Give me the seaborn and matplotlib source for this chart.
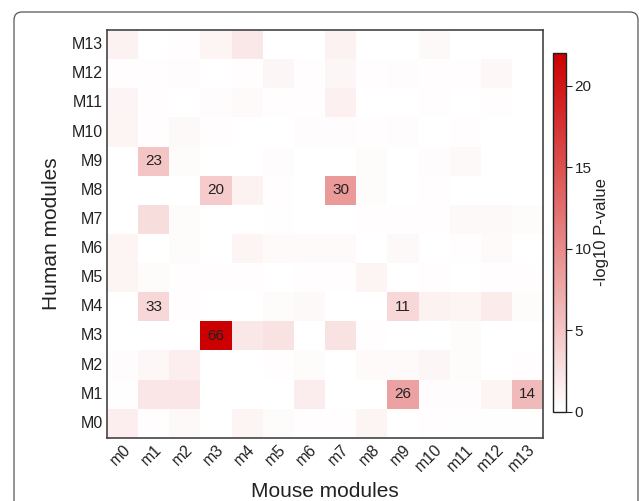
import numpy as np
import pandas as pd
import seaborn as sns
import matplotlib.pyplot as plt
from matplotlib.colors import LinearSegmentedColormap
from matplotlib.patches import FancyBboxPatch

# Module labels (rows listed top to bottom)
human_modules = ['M13', 'M12', 'M11', 'M10', 'M9', 'M8', 'M7',
                 'M6', 'M5', 'M4', 'M3', 'M2', 'M1', 'M0']
mouse_modules = ['m0', 'm1', 'm2', 'm3', 'm4', 'm5', 'm6',
                 'm7', 'm8', 'm9', 'm10', 'm11', 'm12', 'm13']

# -log10 P-values (rows M13 -> M0)
m13 = [1.2, 0.0, 0.2, 1.0, 2.0, 0.0, 0.0, 1.2, 0.0, 0.0, 0.6, 0.0, 0.0, 0.0]
m12 = [0.2, 0.2, 0.3, 0.0, 0.2, 0.8, 0.2, 0.8, 0.2, 0.3, 0.2, 0.2, 0.7, 0.0]
m11 = [0.9, 0.2, 0.0, 0.3, 0.5, 0.2, 0.2, 1.3, 0.0, 0.0, 0.2, 0.0, 0.2, 0.0]
m10 = [1.0, 0.2, 0.6, 0.2, 0.0, 0.0, 0.3, 0.3, 0.2, 0.3, 0.0, 0.2, 0.0, 0.0]
m9 = [0.0, 5.0, 0.4, 0.0, 0.0, 0.3, 0.0, 0.0, 0.4, 0.0, 0.3, 0.6, 0.0, 0.0]
m8 = [0.0, 0.0, 0.0, 4.5, 1.2, 0.2, 0.0, 8.8, 0.4, 0.0, 0.2, 0.0, 0.0, 0.0]
m7 = [0.0, 3.0, 0.4, 0.0, 0.0, 0.1, 0.0, 0.0, 0.2, 0.2, 0.2, 0.6, 0.6, 0.4]
m6 = [1.0, 0.0, 0.4, 0.0, 1.0, 0.5, 0.5, 0.5, 0.0, 0.6, 0.0, 0.2, 0.5, 0.0]
m5 = [1.0, 0.4, 0.2, 0.2, 0.2, 0.0, 0.2, 0.2, 1.0, 0.0, 0.2, 0.0, 0.2, 0.2]
m4 = [0.0, 3.5, 0.2, 0.0, 0.0, 0.4, 0.6, 0.0, 0.0, 3.5, 1.2, 1.0, 1.8, 0.4]
m3 = [0.0, 0.0, 0.0, 25.0, 2.0, 2.5, 0.0, 2.5, 0.2, 0.0, 0.0, 0.4, 0.0, 0.0]
m2 = [0.3, 0.7, 1.5, 0.0, 0.0, 0.2, 0.4, 0.0, 0.5, 0.5, 0.8, 0.4, 0.0, 0.2]
m1 = [0.1, 2.2, 2.2, 0.0, 0.0, 0.0, 1.6, 0.0, 0.0, 8.0, 0.3, 0.3, 1.0, 6.0]
m0 = [1.5, 0.2, 0.6, 0.0, 1.0, 0.4, 0.2, 0.2, 1.0, 0.0, 0.2, 0.1, 0.1, 0.1]

# overlap counts shown in the cells: (human, mouse, count)
counts = [('M9', 'm1', 23), ('M8', 'm3', 20), ('M8', 'm7', 30),
          ('M4', 'm1', 33), ('M4', 'm9', 11), ('M3', 'm3', 66),
          ('M1', 'm9', 26), ('M1', 'm13', 14)]

df = pd.DataFrame([m13, m12, m11, m10, m9, m8, m7, m6, m5, m4, m3, m2, m1, m0],
                  index=human_modules, columns=mouse_modules)
labels = pd.DataFrame('', index=human_modules, columns=mouse_modules)
for h, m, c in counts:
    labels.loc[h, m] = str(c)

sns.set_theme(style='white')
plt.rcParams['font.family'] = ['Liberation Sans', 'DejaVu Sans']

fig = plt.figure(figsize=(6.39, 5.01), dpi=100)
ax = fig.add_axes([0.1675, 0.126, 0.6825, 0.814])
cax = fig.add_axes([0.865, 0.178, 0.021, 0.716])

cmap = LinearSegmentedColormap.from_list('wr', ['#ffffff', '#cc0000'])
sns.heatmap(df, ax=ax, cbar_ax=cax, cmap=cmap, vmin=0, vmax=22,
            annot=labels, fmt='', annot_kws={'color': '#222222', 'fontsize': 11})

ax.tick_params(axis='both', length=0, labelsize=11.5, colors='#222222', pad=3)
ax.set_yticklabels(ax.get_yticklabels(), rotation=0)
ax.set_xticklabels(ax.get_xticklabels(), rotation=45, ha='right', rotation_mode='anchor')
ax.set_xlabel('Mouse modules', fontsize=15, color='#222222', labelpad=5)
ax.set_ylabel('Human modules', fontsize=15, color='#222222', labelpad=8)
for s in ax.spines.values():
    s.set_visible(True)
    s.set_color('#444444')
    s.set_linewidth(1.2)

cbar = ax.collections[0].colorbar
cbar.set_ticks([0, 5, 10, 15, 20])
cbar.outline.set_visible(True)
cbar.outline.set_edgecolor('#222222')
cbar.outline.set_linewidth(1.0)
cax.tick_params(labelsize=11, length=4, width=0.8, colors='#222222', pad=2)
cbar.set_label('-log10 P-value', fontsize=12, color='#222222', labelpad=2)

# rounded panel frame
frame = FancyBboxPatch((0.14, -0.3), 6.24, 5.19, boxstyle='round,pad=0,rounding_size=0.08',
                       transform=fig.dpi_scale_trans, facecolor='none',
                       edgecolor='#555555', linewidth=0.9)
fig.patches.append(frame)

fig.savefig('out.png', dpi=100)
